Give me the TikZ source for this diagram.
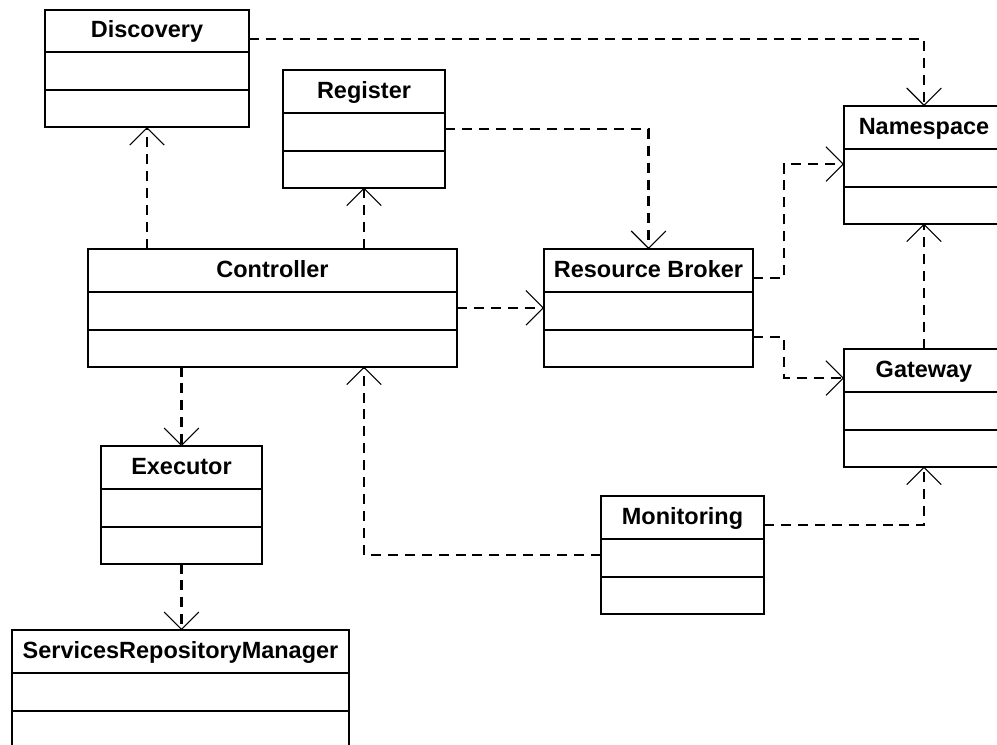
\documentclass[tikz,border=0pt]{standalone}
\usepackage{fontspec}
\setmainfont{Liberation Sans}
\usetikzlibrary{arrows.meta,calc,fit}
\tikzset{
  clsbox/.style={draw=black, line width=1.5pt, inner sep=0pt, outer sep=0pt, fill=white},
  boxline/.style={draw=black, line width=1.5pt},
  clstitle/.style={anchor=base, inner sep=0pt, font=\bfseries\fontsize{17.6}{20}\selectfont},
  dep/.style={draw=black, line width=1.7pt, dash pattern=on 7.5pt off 5.2pt,
    -{Straight Barb[length=13pt,width=26pt,line width=0.8pt]}}
}
\newcommand\umlcls[5]{%
  \coordinate (#1-nw) at (#2,#3);
  \coordinate (#1-se) at (#4,#3+117.5);
  \node[clsbox, fit=(#1-nw)(#1-se)] (#1) {};
  \node[clstitle] (#1-title) at ({(#2+#4)/2},#3+28) {#5};
  \draw[boxline] (#2,#3+42.5) -- (#4,#3+42.5);
  \draw[boxline] (#2,#3+80.5) -- (#4,#3+80.5);
}
\begin{document}
\begin{tikzpicture}[x=0.75pt,y=-0.75pt]
\useasboundingbox (0,0) rectangle (997,744);
\clip (0,0) rectangle (997,744);
\fill[white] (0,0) rectangle (997,744);

\umlcls{disc}{45}{9.5}{249}{Discovery}
\umlcls{reg}{283}{70}{445}{Register}
\umlcls{ctrl}{88}{249}{457}{Controller}
\umlcls{rb}{544}{249}{753}{Resource Broker}
\umlcls{ns}{844}{106}{1004}{Namespace}
\umlcls{gw}{844}{349}{1004}{Gateway}
\umlcls{exe}{101}{446}{262}{Executor}
\umlcls{srm}{12}{630}{349}{ServicesRepositoryManager}
\umlcls{mon}{601}{496}{764}{Monitoring}

% connectors
\draw[dep] ($(disc.north east)+(0,29.5)$) -| (ns.north);
\draw[dep] ($(reg.north east)+(0,59)$) -| (rb.north);
\draw[dep] (ctrl.north -| disc.south) -- (disc.south);
\draw[dep] (ctrl.north -| reg.south) -- (reg.south);
\draw[dep] (ctrl.east) -- (ctrl.east -| rb.west);
\draw[dep] ($(rb.north east)+(0,29)$) -- ++(31,0) |- ($(ns.north west)+(0,58)$);
\draw[dep] ($(rb.north east)+(0,88)$) -- ++(31,0) |- ($(gw.north west)+(0,29)$);
\draw[dep] (gw.north) -- (ns.south);
\draw[dep] (ctrl.south -| exe.north) -- (exe.north);
\draw[dep] ($(mon.north west)+(0,59)$) -| (ctrl.south -| reg.south);
\draw[dep] ($(mon.north east)+(0,29)$) -| (gw.south);
\draw[dep] (exe.south) -- (exe.south |- srm.north);
\end{tikzpicture}
\end{document}
